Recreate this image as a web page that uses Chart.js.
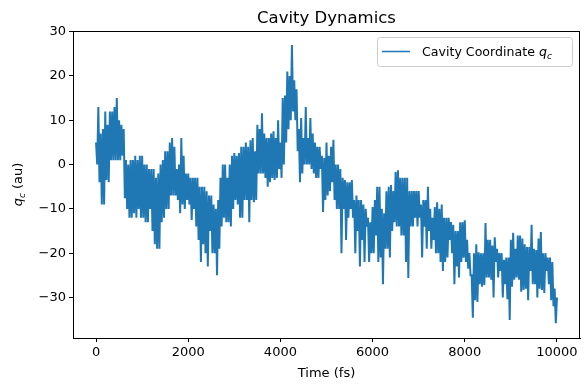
<!DOCTYPE html>
<html>
<head>
<meta charset="utf-8">
<script src="https://cdn.jsdelivr.net/npm/chart.js@4/dist/chart.umd.min.js"></script>
<style>
html,body{margin:0;padding:0;background:#fff;}
#wrap{width:588px;height:390px;position:relative;}
</style>
</head>
<body>
<div id="wrap"><canvas id="c" width="588" height="390"></canvas></div>
<script>
// Cavity coordinate q_c, in 50 fs bins (0 ... 10000 fs).
// The trace oscillates quickly, so each bin keeps the highest and lowest value read there.
const binStart = 0;      // fs
const binWidth = 50;     // fs
const qcHigh = [
5,13,7,8,12,9,12,12,13,15,10,9,8,1,0,1,1,2,1,2,
2,0,0,-1,-1,-1,-3,-2,0,1,3,3,5,6,4,-1,0,6,2,-2,
-2,-3,-3,-3,-3,-5,-5,-5,-6,-7,-7,-9,-10,-8,-3,0,0,-3,0,2,
2.6,2,2.6,4,4,5,4,5.5,6,3,9,8,11.6,7,6,6,7,7.5,6,10,
5,15,15.6,21,20,27,19,17,8,10.5,6,13,6,10.5,7,5,4,4,2,1.5,
5,2,4,5.6,0,0,-1,-3,-3.5,-4,-4,-3.5,-8,-7,-8,-8,-9,-10,-12,-13,
-9.6,-8,-5,-5,-10,-11,-6,-5,-4.6,-6,-1.7,-1.3,-3,-3,-3,-3,-6,-6,-6,-6,
-6,-9,-8,-8,-5,-10,-12,-9.6,-8.5,-10,-9,-12,-12,-12,-13,-13.6,-15,-15,-13,-13,
-12.6,-17,-20,-25,-20,-18,-19.8,-20,-20,-13.2,-17,-17,-18.3,-16.4,-19,-20,-20,-21.5,-21,-21,
-17,-15.4,-19,-16,-16,-16.7,-18,-18.6,-18.6,-13.6,-19,-19.3,-16.7,-15.2,-20,-20,-21,-21,-22,-28,
-30
];
const qcLow = [
0,-4,-9,-9,-3.5,-4,1,1,1,1,1,2,-7.6,-10,-12,-12,-11,-12,-10,-12,
-12,-13,-13,-10,-15,-18,-19,-19,-13,-12,-10,-10,-7,-7,-7,-8,-11,-9,-10,-8,
-9,-12.5,-10,-14,-17,-22,-18,-20,-23,-15,-20,-20,-25,-19,-14,-12,-13,-13,-14,-10,
-8,-9,-12,-12,-8,-8,-13,-8,-8.5,-8,-2,-2,-2,-3,-5,-4,-3,-3.5,-3,-1,
-3,0,5,8,10,12,10,3,-4,-2,0,0,0,-1,-2,-3,-3,-1,-10.7,-8,
-7,-6,-4,-8,-10,-10,-20,-10,-17,-12,-10,-12,-20,-15,-23,-17,-22,-14,-22,-20,
-20,-16,-22,-21,-27,-19,-19,-21,-15,-13,-14,-14,-16,-16,-22,-25.6,-14,-14,-12,-14,
-12,-21,-14,-19,-15,-19,-17,-20,-20,-22,-24,-22,-21,-17,-20,-27,-23,-25.5,-22,-21,
-22,-23.5,-25,-34.6,-30.6,-31,-27,-27.6,-27.2,-25.5,-25.5,-26,-30,-22,-25.5,-24,-30,-27,-30.4,-35.1,
-27.6,-26,-25.5,-26,-28.7,-28.3,-28,-30.6,-24,-27,-27,-30,-28,-28.3,-29,-24,-27,-30.6,-32,-35.8
];
const xTicks = [0,2000,4000,6000,8000,10000];
const yTicks = [-30,-20,-10,0,10,20,30];
const titleText = 'Cavity Dynamics';
const xLabel = 'Time (fs)';
const seriesLabel = 'Cavity Coordinate ';

// Trace: within each bin the line goes from the bin's high reading to its low reading.
const points = [];
qcHigh.forEach((h, k) => {
  const t = binStart + k * binWidth;
  points.push({x: t, y: h});
  if (k < qcLow.length) points.push({x: t + binWidth / 2, y: qcLow[k]});
});

const FONT = '"DejaVu Sans", sans-serif';
const fmt = v => String(v).replace('-', '\u2212');

const decor = {
  id: 'decor',
  afterDraw(chart) {
    const {ctx, chartArea: a} = chart;
    ctx.save();
    ctx.strokeStyle = '#000';
    ctx.lineWidth = 1;
    ctx.strokeRect(Math.round(a.left) + 0.5, Math.round(a.top) + 0.5, Math.round(a.right - a.left) - 1, Math.round(a.bottom - a.top));
    ctx.fillStyle = '#000';
    ctx.font = '16.5px ' + FONT;
    ctx.textAlign = 'center';
    ctx.textBaseline = 'alphabetic';
    ctx.fillText(titleText, (a.left + a.right) / 2, 23);
    ctx.font = '13px ' + FONT;
    ctx.fillText(xLabel, (a.left + a.right) / 2, 377);
    ctx.save();
    ctx.translate(22, (a.top + a.bottom) / 2);
    ctx.rotate(-Math.PI / 2);
    const partQ = 'q', partC = 'c', partRest = ' (au)';
    ctx.font = 'italic 13px ' + FONT;
    const wq = ctx.measureText(partQ).width;
    ctx.font = 'italic 9px ' + FONT;
    const wc = ctx.measureText(partC).width;
    ctx.font = '13px ' + FONT;
    const wr = ctx.measureText(partRest).width;
    let x0 = -(wq + wc + wr) / 2;
    ctx.textAlign = 'left';
    ctx.font = 'italic 13px ' + FONT;
    ctx.fillText(partQ, x0, 0);
    ctx.font = 'italic 9px ' + FONT;
    ctx.fillText(partC, x0 + wq, 3);
    ctx.font = '13px ' + FONT;
    ctx.fillText(partRest, x0 + wq + wc, 0);
    ctx.restore();
    const lx = 377.5, ly = 37.5, lw = 195, lh = 29;
    ctx.beginPath();
    const r = 3;
    ctx.moveTo(lx + r, ly);
    ctx.arcTo(lx + lw, ly, lx + lw, ly + lh, r);
    ctx.arcTo(lx + lw, ly + lh, lx, ly + lh, r);
    ctx.arcTo(lx, ly + lh, lx, ly, r);
    ctx.arcTo(lx, ly, lx + lw, ly, r);
    ctx.closePath();
    ctx.fillStyle = 'rgba(255,255,255,0.8)';
    ctx.fill();
    ctx.strokeStyle = '#cccccc';
    ctx.stroke();
    ctx.strokeStyle = '#1f77b4';
    ctx.lineWidth = 1.5;
    ctx.beginPath();
    ctx.moveTo(382, 51.5);
    ctx.lineTo(410, 51.5);
    ctx.stroke();
    ctx.fillStyle = '#000';
    ctx.textAlign = 'left';
    ctx.font = '12.6px ' + FONT;
    ctx.fillText(seriesLabel, 422, 56);
    const ws = ctx.measureText(seriesLabel).width;
    ctx.font = 'italic 12.6px ' + FONT;
    ctx.fillText('q', 422 + ws, 56);
    const wq2 = ctx.measureText('q').width;
    ctx.font = 'italic 9px ' + FONT;
    ctx.fillText('c', 422 + ws + wq2, 59);
    ctx.restore();
  }
};

new Chart(document.getElementById('c'), {
  type: 'line',
  data: {
    datasets: [{
      label: 'Cavity Coordinate q_c',
      data: points,
      borderColor: '#1f77b4',
      borderWidth: 2,
      pointRadius: 0,
      tension: 0,
      fill: false
    }]
  },
  options: {
    responsive: false,
    animation: false,
    devicePixelRatio: 1,
    layout: {padding: {left: 0, right: 8, top: 31, bottom: 0}},
    plugins: {legend: {display: false}, title: {display: false}, tooltip: {enabled: false}},
    scales: {
      x: {
        type: 'linear', min: -500, max: 10500,
        afterBuildTicks: s => { s.ticks = xTicks.map(v => ({value: v})); },
        afterFit: s => { s.height = 52; },
        grid: {drawOnChartArea: false, drawTicks: true, tickLength: 4, color: '#000'},
        border: {display: true, color: '#000'},
        ticks: {color: '#000', font: {family: FONT, size: 13}, padding: 3, maxRotation: 0, callback: v => fmt(v)}
      },
      y: {
        type: 'linear', min: -39.15, max: 30.15,
        afterBuildTicks: s => { s.ticks = yTicks.map(v => ({value: v})); },
        afterFit: s => { s.width = 73; },
        grid: {drawOnChartArea: false, drawTicks: true, tickLength: 4, color: '#000'},
        border: {display: true, color: '#000'},
        ticks: {color: '#000', font: {family: FONT, size: 13}, padding: 3, callback: v => fmt(v)}
      }
    }
  },
  plugins: [decor]
});
</script>
</body>
</html>
